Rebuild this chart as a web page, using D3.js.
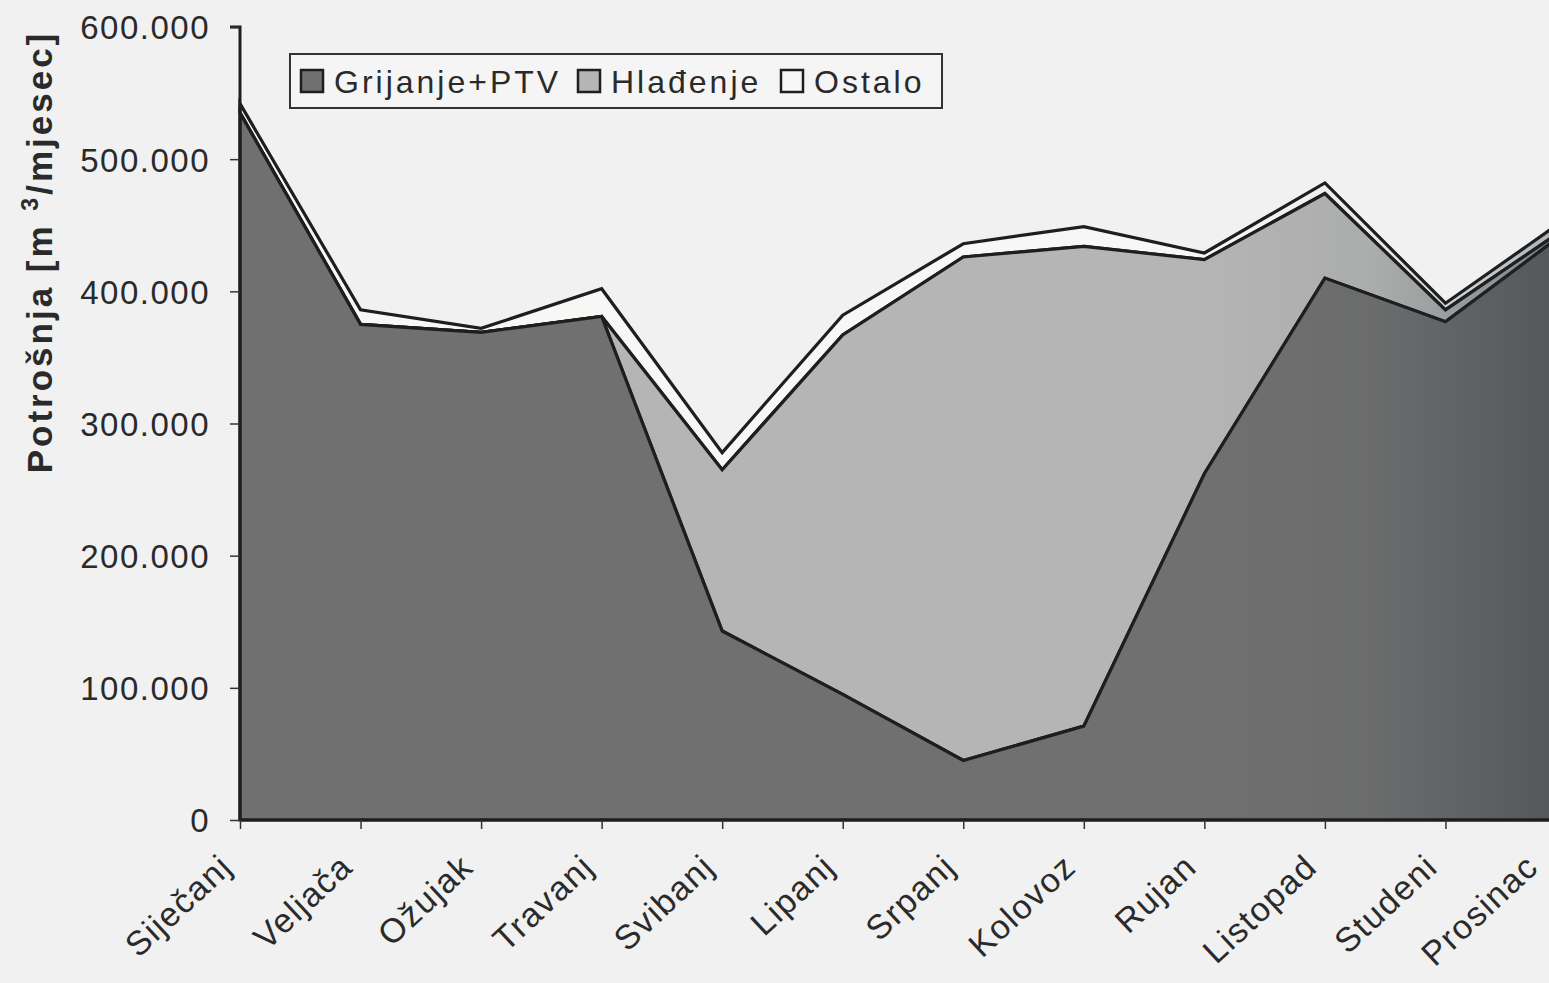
<!DOCTYPE html>
<html>
<head>
<meta charset="utf-8">
<script src="https://cdn.jsdelivr.net/npm/d3@7"></script>
<style>
  html,body{margin:0;padding:0;background:#f0f1f0;}
  svg{display:block;}
  text{font-family:"Liberation Sans",Arial,sans-serif;fill:#2a2a2a;}
</style>
</head>
<body>
<svg id="chart"></svg>
<script>
// monthly consumption, m3/month
var months=["Siječanj","Veljača","Ožujak","Travanj","Svibanj","Lipanj","Srpanj","Kolovoz","Rujan","Listopad","Studeni","Prosinac"];
var grijanje=[535000,375000,369000,381000,143000,95000,45000,71000,262000,410000,377000,445000];
var hladenje=[0,0,0,0,122000,272000,381000,363000,162000,64000,9000,3000];
var ostalo=[7000,11000,3000,21000,13000,15000,10000,15000,5000,8000,5000,7000];
var seriesNames=["Grijanje+PTV","Hlađenje","Ostalo"];
var seriesColors=["#707070","#b4b5b4","#f7f7f6"];
var yTicks=[0,100000,200000,300000,400000,500000,600000];

var W=1549,H=983;
var x0=240,x1=1566; // last month sits just past the photo's right edge
var yBottom=820,yTop=27;

var svg=d3.select('#chart').attr('width',W).attr('height',H);

var rows=months.map(function(m,i) {
    return {month:m,g:grijanje[i],h:hladenje[i],o:ostalo[i]};
});
var stack=d3.stack().keys(['g','h','o']);
var layers=stack(rows);

var xscale=d3.scalePoint().domain(months).range([x0,x1]);
var yscale=d3.scaleLinear().domain([0,600000]).range([yBottom,yTop]);

var area=d3.area()
    .x(function(d) {return xscale(d.data.month);})
    .y0(function(d) {return yscale(d[0]);})
    .y1(function(d) {return yscale(d[1]);});

var defs=svg.append('defs');
var grad=defs.append('linearGradient').attr('id','shade')
    .attr('gradientUnits','userSpaceOnUse').attr('x1',1200).attr('x2',W).attr('y1',0).attr('y2',0);
grad.append('stop').attr('offset','0').attr('stop-color','#1c2630').attr('stop-opacity',0);
grad.append('stop').attr('offset','0.5').attr('stop-color','#1c2630').attr('stop-opacity',0.06);
grad.append('stop').attr('offset','1').attr('stop-color','#1c2630').attr('stop-opacity',0.32);

var gg=svg.append('g');

// areas, top layer drawn first so the lower outlines stay visible
gg.selectAll('path.layer')
    .data(layers.slice().reverse())
    .enter().append('path')
    .attr('class','layer')
    .attr('d',area)
    .attr('fill',function(d) {return seriesColors[d.index];})
    .attr('stroke','#1e1e1e')
    .attr('stroke-width',3.2)
    .attr('stroke-linejoin','miter');

// photo darkening towards the right edge, only over the filled areas
gg.append('path')
    .datum(layers[2])
    .attr('d',d3.area()
        .x(function(d) {return xscale(d.data.month);})
        .y0(yBottom)
        .y1(function(d) {return yscale(d[1]);}))
    .attr('fill','url(#shade)');

// y axis
var fmt=d3.formatLocale({decimal:',',thousands:'.',grouping:[3],currency:['','']}).format(',d');
var yAxis=d3.axisLeft(yscale).tickValues(yTicks).tickFormat(fmt).tickSize(10).tickPadding(20);
var Y=gg.append('g').attr('transform','translate('+x0+',0)').call(yAxis);
Y.select('.domain').attr('stroke','#1e1e1e').attr('stroke-width',3).attr('d','M0,'+yBottom+'V'+yTop+'H-10');
Y.selectAll('.tick line').attr('stroke','#333').attr('stroke-width',1.5);
Y.selectAll('.tick text')
    .attr('font-size','33px').attr('letter-spacing','1.5px').attr('fill','#2a2a2a')
    .attr('font-family','"Liberation Sans",Arial,sans-serif').attr('dy','0.36em');

// x axis
var xAxis=d3.axisBottom(xscale).tickSize(9).tickFormat('');
var X=gg.append('g').attr('transform','translate(0,'+yBottom+')').call(xAxis);
X.select('.domain').attr('stroke','#1e1e1e').attr('stroke-width',3).attr('d','M'+x0+',0H'+x1);
X.selectAll('.tick line').attr('stroke','#333').attr('stroke-width',1.5);

gg.selectAll('text.month')
    .data(months)
    .enter().append('text')
    .attr('class','month')
    .attr('transform',function(d,i) {
        // last label pulled in a little so it stays inside the photo edge
        var off=(i==months.length-1)?-42:-22;
        return 'translate('+(xscale(d)+off)+','+(yBottom+32)+') rotate(-43)';
    })
    .attr('text-anchor','end')
    .attr('dy','0.7em')
    .attr('font-size','34px')
    .attr('letter-spacing','1.5px')
    .text(function(d) {return d;});

// y axis title
var title=gg.append('text')
    .attr('transform','translate(52,252) rotate(-90)')
    .attr('text-anchor','middle')
    .attr('font-size','35px')
    .attr('font-weight','bold')
    .attr('letter-spacing','3px');
title.append('tspan').text('Potrošnja [m ');
title.append('tspan').attr('font-size','23px').attr('dy','-14').text('3');
title.append('tspan').attr('dy','14').text('/mjesec]');

// legend
var lg=gg.append('g').attr('transform','translate(290,54)');
lg.append('rect').attr('width',652).attr('height',54).attr('fill','#f4f5f4').attr('stroke','#333').attr('stroke-width',2);
var itemX=[11,288,491];
seriesNames.forEach(function(name,i) {
    var it=lg.append('g').attr('transform','translate('+itemX[i]+',0)');
    it.append('rect').attr('x',0).attr('y',16).attr('width',22).attr('height',22)
        .attr('fill',seriesColors[i]).attr('stroke','#1e1e1e').attr('stroke-width',2.5);
    it.append('text').attr('x',33).attr('y',39).attr('font-size','32px').attr('letter-spacing','3px').text(name);
});
</script>
</body>
</html>
